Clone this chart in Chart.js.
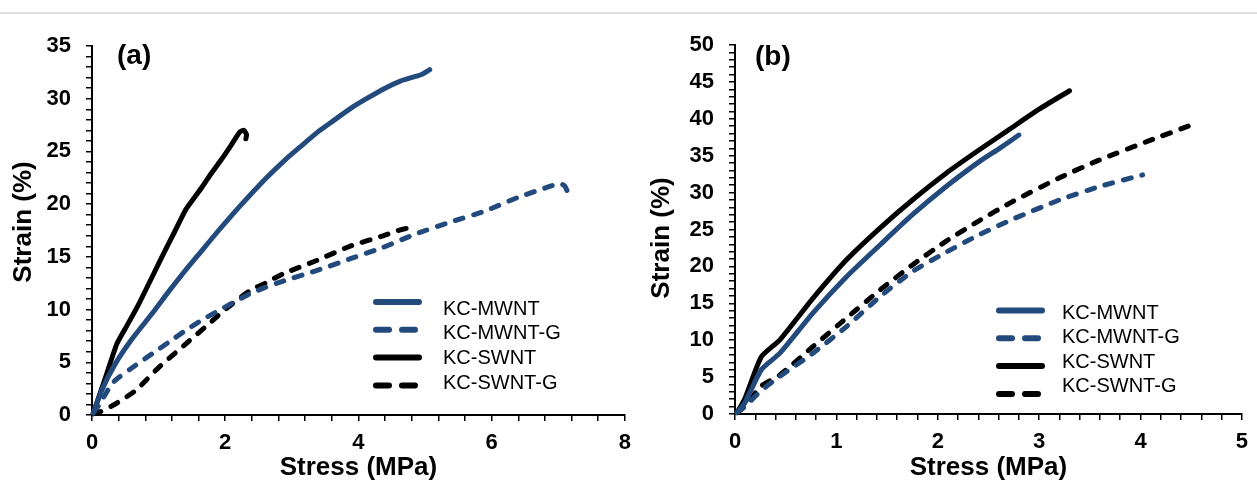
<!DOCTYPE html>
<html>
<head>
<meta charset="utf-8">
<script src="https://cdn.jsdelivr.net/npm/chart.js@4.4.1/dist/chart.umd.min.js"></script>
<style>
  body { margin: 0; background: #fff; }
  #wrap { position: relative; width: 1257px; height: 483px; overflow: hidden; }
  .rule { position: absolute; left: 0; top: 12px; width: 1257px; height: 2px; background: #dedede; }
  .panel { position: absolute; top: 0; height: 483px; }
  #panelA { left: 0; width: 640px; }
  #panelB { left: 640px; width: 617px; }
</style>
</head>
<body>
<div id="wrap">
  <div class="rule"></div>
  <div class="panel" id="panelA"><canvas id="chartA" width="640" height="483"></canvas></div>
  <div class="panel" id="panelB"><canvas id="chartB" width="617" height="483"></canvas></div>
</div>
<script>
const seriesNames = ['KC-MWNT', 'KC-MWNT-G', 'KC-SWNT', 'KC-SWNT-G'];

// panel (a) curves, [stress MPa, strain %]
const aMWNT = [[0.02, 0.2], [0.15, 2.4], [0.345, 4.8], [0.6, 7.2], [0.9, 9.6], [1.15, 11.7], [1.4, 13.7],
  [1.65, 15.6], [1.9, 17.5], [2.12, 19.1], [2.35, 20.7], [2.62, 22.5], [2.9, 24.2], [3.12, 25.4],
  [3.4, 26.9], [3.62, 27.9], [3.9, 29.15], [4.12, 30.0], [4.4, 31.0], [4.62, 31.65], [4.82, 32.05],
  [4.95, 32.3], [5.07, 32.75]];
const aMWNTG = [[0.02, 0.2], [0.1, 0.9], [0.195, 1.9], [0.3, 3.0], [0.4, 3.55], [0.65, 4.7], [0.9, 5.8],
  [1.15, 6.9], [1.4, 8.0], [1.65, 9.0], [1.9, 9.9], [2.37, 11.5], [2.6, 12.1], [2.87, 12.7],
  [3.37, 13.7], [3.87, 14.8], [4.37, 15.9], [4.87, 17.2], [5.38, 18.3], [5.88, 19.3], [6.38, 20.6],
  [6.88, 21.7], [7.03, 21.95], [7.1, 21.7], [7.13, 21.3]];
const aSWNT = [[0.02, 0.2], [0.2, 3.5], [0.37, 6.7], [0.5, 8.2], [0.7, 10.5], [1.05, 15.0], [1.25, 17.5],
  [1.4, 19.4], [1.5, 20.3], [1.65, 21.6], [1.8, 23.0], [1.95, 24.3], [2.1, 25.7], [2.22, 26.85],
  [2.28, 27.0], [2.32, 26.6], [2.31, 26.2]];
const aSWNTG = [[0.02, 0.1], [0.12, 0.3], [0.3, 0.86], [0.65, 2.3], [1.0, 4.5], [1.4, 6.7], [1.8, 8.9],
  [2.0, 10.0], [2.37, 11.8], [2.6, 12.5], [2.87, 13.4], [3.37, 14.65], [3.87, 16.0], [4.37, 17.0],
  [4.6, 17.5], [4.72, 17.7], [4.82, 17.35]];

// panel (b) curves
const bMWNT = [[0.02, 0.2], [0.095, 1.45], [0.26, 6.0], [0.443, 8.25], [0.77, 13.7], [1.1, 18.6],
  [1.43, 22.9], [1.75, 27.0], [2.08, 30.8], [2.41, 34.2], [2.61, 36.0], [2.8, 37.8]];
const bMWNTG = [[0.02, 0.2], [0.13, 1.45], [0.26, 3.2], [0.443, 5.1], [0.77, 8.25], [1.1, 11.85],
  [1.43, 15.9], [1.75, 19.3], [2.08, 21.9], [2.41, 24.3], [2.74, 26.4], [3.2, 29.0], [3.59, 30.8],
  [4.02, 32.4]];
const bSWNT = [[0.02, 0.2], [0.095, 2.0], [0.26, 7.76], [0.443, 10.05], [0.77, 15.7], [1.1, 20.9],
  [1.43, 25.2], [1.75, 29.0], [2.08, 32.6], [2.41, 35.8], [2.71, 38.6], [3.0, 41.3], [3.3, 43.8]];
const bSWNTG = [[0.02, 0.2], [0.095, 1.0], [0.26, 3.8], [0.443, 5.3], [0.77, 9.15], [1.1, 13.0],
  [1.43, 16.8], [1.75, 20.2], [2.08, 23.4], [2.41, 26.2], [2.74, 28.8], [3.2, 32.0], [3.59, 34.4],
  [4.08, 37.0], [4.51, 39.2]];

const blue = '#234a7c';
const black = '#000000';
const fontFamily = '"Liberation Sans", Arial, sans-serif';

Chart.defaults.font.family = fontFamily;
Chart.defaults.color = '#000';

function lineSet(label, points, color, dashed) {
  return {
    label: label,
    data: points.map(p => ({ x: p[0], y: p[1] })),
    borderColor: color,
    backgroundColor: color,
    borderWidth: 5,
    borderDash: dashed ? [8, 11] : [],
    borderCapStyle: 'round',
    borderJoinStyle: 'round',
    pointRadius: 0,
    tension: 0.2,
    fill: false,
    clip: false
  };
}

// label only every n-th tick, keep the small tick marks
function everyNth(v, n) {
  return Math.abs(v / n - Math.round(v / n)) < 1e-6 ? String(Math.round(v)) : '';
}

function axes(cfg) {
  const tickFont = { size: 22, weight: 'bold' };
  const titleFont = { size: 26, weight: 'bold' };
  const grid = { drawOnChartArea: false, drawTicks: true, tickLength: 6, color: '#000', lineWidth: 1.5 };
  return {
    x: {
      type: 'linear', min: 0, max: cfg.xMax,
      afterFit: s => { s.height = cfg.xHeight; },
      border: { display: true, color: '#000', width: 2 },
      grid: grid,
      ticks: { stepSize: cfg.xStep, autoSkip: false, maxRotation: 0, padding: 9, font: tickFont,
        callback: v => everyNth(v, cfg.xEvery) },
      title: { display: true, text: 'Stress (MPa)', font: titleFont, padding: { top: 0, bottom: cfg.xTitlePad } }
    },
    y: {
      type: 'linear', min: 0, max: cfg.yMax,
      afterFit: s => { s.width = cfg.yWidth; },
      border: { display: true, color: '#000', width: 2 },
      grid: grid,
      ticks: { stepSize: 1, autoSkip: false, padding: 15, font: tickFont,
        callback: v => everyNth(v, 5) },
      title: { display: false }
    }
  };
}

// panel tag, rotated y title and in-plot legend
const panelDecor = {
  id: 'panelDecor',
  afterDraw(chart, args, opts) {
    const ctx = chart.ctx;
    ctx.save();
    ctx.fillStyle = '#000';
    ctx.textBaseline = 'alphabetic';
    ctx.font = 'bold 28px ' + fontFamily;
    ctx.fillText(opts.tag, opts.tagX, opts.tagY);

    ctx.save();
    ctx.translate(opts.yTitleX, opts.yTitleY);
    ctx.rotate(-Math.PI / 2);
    ctx.font = 'bold 26px ' + fontFamily;
    ctx.textAlign = 'center';
    ctx.textBaseline = 'middle';
    ctx.fillText('Strain (%)', 0, 0);
    ctx.restore();

    chart.data.datasets.forEach((ds, i) => {
      const ly = opts.lineY + i * opts.lineGap;
      ctx.beginPath();
      ctx.lineWidth = 6;
      ctx.lineCap = 'round';
      ctx.strokeStyle = ds.borderColor;
      ctx.setLineDash(ds.borderDash.length ? [13, 13] : []);
      ctx.moveTo(opts.lineX + 3, ly);
      ctx.lineTo(opts.lineX + 46, ly);
      ctx.stroke();
      ctx.setLineDash([]);
      ctx.font = '20px ' + fontFamily;
      ctx.fillText(ds.label, opts.textX, opts.textY + i * opts.textGap);
    });
    ctx.restore();
  }
};

function makeChart(id, sets, cfg, decor) {
  return new Chart(document.getElementById(id), {
    type: 'line',
    data: {
      datasets: [
        lineSet(seriesNames[0], sets[0], blue, false),
        lineSet(seriesNames[1], sets[1], blue, true),
        lineSet(seriesNames[2], sets[2], black, false),
        lineSet(seriesNames[3], sets[3], black, true)
      ]
    },
    options: {
      responsive: false,
      animation: false,
      layout: { padding: cfg.padding },
      scales: axes(cfg),
      plugins: {
        legend: { display: false },
        tooltip: { enabled: false },
        panelDecor: decor
      }
    },
    plugins: [panelDecor]
  });
}

makeChart('chartA', [aMWNT, aMWNTG, aSWNT, aSWNTG], {
  xMax: 8, xStep: 0.4, xEvery: 2, yMax: 35,
  xHeight: 68, yWidth: 92, xTitlePad: 0,
  padding: { top: 46, right: 15, bottom: 0, left: 0 }
}, {
  tag: '(a)', tagX: 117, tagY: 64,
  yTitleX: 24, yTitleY: 222,
  lineX: 373, lineY: 302, lineGap: 27.8,
  textX: 443, textY: 314.5, textGap: 24.7
});

makeChart('chartB', [bMWNT, bMWNTG, bSWNT, bSWNTG], {
  xMax: 5, xStep: 0.2, xEvery: 1, yMax: 50,
  xHeight: 69, yWidth: 95, xTitlePad: 0,
  padding: { top: 45, right: 14, bottom: 0, left: 0 }
}, {
  tag: '(b)', tagX: 115, tagY: 65,
  yTitleX: 22, yTitleY: 238,
  lineX: 356, lineY: 310.5, lineGap: 27.8,
  textX: 422, textY: 318.7, textGap: 24.5
});
</script>
</body>
</html>
